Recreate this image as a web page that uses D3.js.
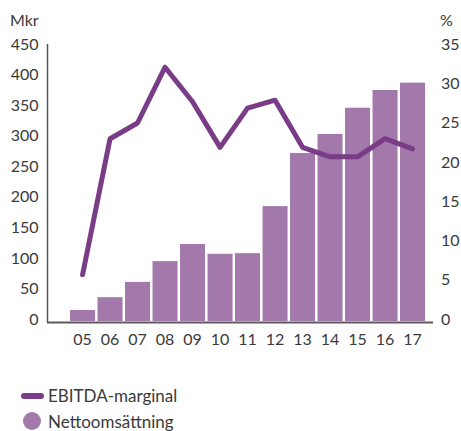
<!DOCTYPE html>
<html>
<head>
<meta charset="utf-8">
<script src="https://cdn.jsdelivr.net/npm/d3@7"></script>
<style>
	body { margin: 0; background: #fff; }
	text { font-family: "Lato", "DejaVu Sans", sans-serif; fill: #3a3a3a; }
</style>
</head>
<body>
<div id="plot"></div>
<script>
var years = ["05", "06", "07", "08", "09", "10", "11", "12", "13", "14", "15", "16", "17"];
var sales = [18, 39, 64, 98, 126, 110, 111, 188, 275, 306, 349, 378, 390];
var margin = [5.9, 23.2, 25.2, 32.3, 27.9, 22.1, 27.1, 28.1, 22.1, 20.9, 20.9, 23.2, 21.9];
var leftTicks = [0, 50, 100, 150, 200, 250, 300, 350, 400, 450];
var rightTicks = [0, 5, 10, 15, 20, 25, 30, 35];

function chart(){
	var width = 461, height = 431;
	var barColor = "#a279aa";
	var lineColor = "#7a3c87";

	var svg = d3.select("#plot").append("svg")
		.attr("width", width)
		.attr("height", height);

	var x = d3.scaleBand()
		.domain(years)
		.range([68.8, 426.3])
		.paddingInner(0.09)
		.paddingOuter(0.045);

	var yL = d3.scaleLinear().domain([0, 450]).range([321, 46]);
	var yR = d3.scaleLinear().domain([0, 35]).range([321, 46]);

	// bars
	svg.append("g")
		.selectAll("rect")
		.data(sales)
		.enter().append("rect")
		.attr("x", function(d, i) { return x(years[i]); })
		.attr("y", function(d) { return yL(d); })
		.attr("width", x.bandwidth())
		.attr("height", function(d) { return yL(0) - yL(d); })
		.attr("fill", barColor);

	// left axis
	var left = svg.append("g")
		.attr("transform", "translate(47.5,0)")
		.call(d3.axisLeft(yL).tickValues(leftTicks).tickSize(0).tickPadding(9));
	left.select(".domain").attr("stroke", "#555").attr("stroke-width", 1.5)
		.attr("d", "M0,44V322");
	left.selectAll("text").style("font-size", "16px").attr("dy", "0.2em");

	// right axis
	var right = svg.append("g")
		.attr("transform", "translate(433,0)")
		.call(d3.axisRight(yR).tickValues(rightTicks).tickSize(0).tickPadding(8));
	right.select(".domain").remove();
	right.selectAll("text").style("font-size", "16px").attr("dy", "0.2em");

	// x axis
	var bottom = svg.append("g")
		.attr("transform", "translate(0,322)")
		.call(d3.axisBottom(x).tickSize(0).tickPadding(12));
	bottom.select(".domain").remove();
	bottom.selectAll("text").style("font-size", "16px");

	svg.append("line")
		.attr("x1", 47).attr("x2", 433)
		.attr("y1", 322.5).attr("y2", 322.5)
		.attr("stroke", "#5a5a5a")
		.attr("stroke-width", 2);

	// EBITDA line
	var line = d3.line()
		.x(function(d, i) { return x(years[i]) + x.bandwidth() / 2; })
		.y(function(d) { return yR(d); });

	svg.append("path")
		.datum(margin)
		.attr("d", line)
		.attr("fill", "none")
		.attr("stroke", lineColor)
		.attr("stroke-width", 5)
		.attr("stroke-linejoin", "round")
		.attr("stroke-linecap", "round");

	// unit labels
	svg.append("text").attr("x", 10).attr("y", 26).style("font-size", "16px").text("Mkr");
	svg.append("text").attr("x", 440).attr("y", 26).style("font-size", "16px").text("%");

	// legend
	svg.append("line")
		.attr("x1", 24).attr("x2", 41)
		.attr("y1", 396).attr("y2", 396)
		.attr("stroke", lineColor)
		.attr("stroke-width", 6)
		.attr("stroke-linecap", "round");
	svg.append("text").attr("x", 48).attr("y", 402).style("font-size", "17px").text("EBITDA-marginal");

	svg.append("circle")
		.attr("cx", 32).attr("cy", 421).attr("r", 9)
		.attr("fill", barColor);
	svg.append("text").attr("x", 48).attr("y", 428).style("font-size", "17px").text("Nettoomsättning");
}
chart();
</script>
</body>
</html>
